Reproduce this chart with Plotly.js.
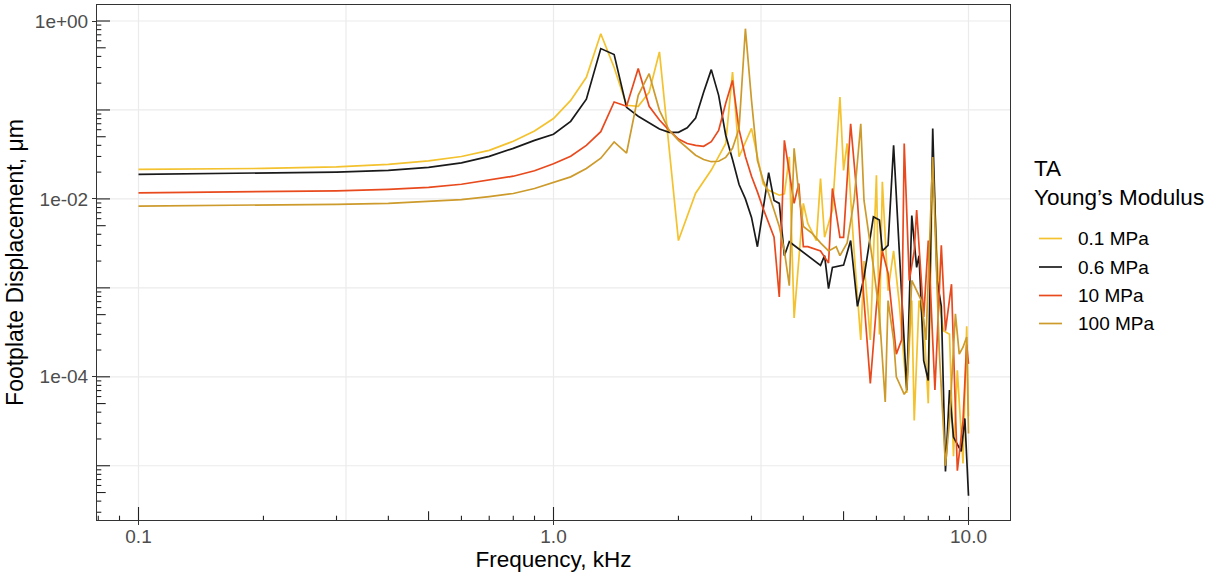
<!DOCTYPE html>
<html>
<head>
<meta charset="utf-8">
<script src="https://cdn.plot.ly/plotly-3.0.1.min.js"></script>
<style>
  html, body { margin: 0; padding: 0; background: #ffffff; }
  #chart { width: 1215px; height: 579px; }
</style>
</head>
<body>
<div id="chart"></div>
<script>
// Footplate displacement frequency response for four TA Young's modulus values

const seriesNames  = ['0.1 MPa', '0.6 MPa', '10 MPa', '100 MPa'];
const seriesColors = ['#F3C22E', '#1A1A1A', '#E84A1E', '#CD9A2C'];

// 0.1 MPa
const freq_01 = [0.1,0.2,0.3,0.4,0.5,0.6,0.7,0.8,0.9,1.0,1.1,1.2,1.3,1.4,1.5,1.6,1.7,1.8,2.0,2.2,2.4,2.6,2.7,2.8,3.0,3.2,3.3,3.5,3.6,3.7,3.8,4.0,4.1,4.3,4.4,4.5,4.7,4.9,5.0,5.1,5.3,5.5,5.6,5.8,6.0,6.1,6.2,6.4,6.6,6.8,7.1,7.3,7.4,7.6,7.8,8.0,8.2,8.5,8.7,9.0,9.2,9.4,9.7,9.9,10.0];
const disp_01 = [0.0215,0.0220,0.0229,0.0245,0.0268,0.0300,0.0351,0.0445,0.058,0.080,0.128,0.233,0.72,0.30,0.113,0.110,0.158,0.45,0.0034,0.0116,0.0211,0.042,0.267,0.0298,0.062,0.0148,0.0125,0.011,0.0114,0.0297,0.00046,0.0089,0.0053,0.0034,0.0169,0.0037,0.0075,0.14,0.0209,0.042,0.0026,0.00026,0.002,0.00026,0.0184,0.0003,0.0156,0.00093,0.0026,0.00072,0.0000658,0.00072,0.0000322,0.00072,0.00043,0.0000503,0.0271,0.00072,0.00033,0.0003,0.0000128,0.000118,0.0000106,0.00037,0.000036];

// 0.6 MPa
const freq_06 = [0.1,0.2,0.3,0.4,0.5,0.6,0.7,0.8,0.9,1.0,1.1,1.2,1.3,1.4,1.5,1.6,1.7,1.8,1.9,2.0,2.1,2.2,2.3,2.4,2.5,2.6,2.7,2.8,2.9,3.0,3.1,3.3,3.4,3.5,3.6,3.7,4.4,4.5,4.6,4.7,5.0,5.2,5.4,5.6,5.9,6.1,6.2,6.4,6.6,6.8,6.9,7.1,7.3,7.5,7.6,7.8,8.0,8.2,8.4,8.6,8.8,9.0,9.2,9.6,9.8,10.0];
const disp_06 = [0.0189,0.0195,0.0200,0.0209,0.0226,0.0254,0.0301,0.0370,0.0455,0.0534,0.0745,0.132,0.49,0.42,0.107,0.085,0.071,0.061,0.056,0.056,0.063,0.081,0.158,0.284,0.146,0.052,0.0277,0.0145,0.0100,0.0062,0.0029,0.0197,0.0096,0.0089,0.0023,0.0033,0.00179,0.0023,0.00098,0.0017,0.0018,0.0034,0.00062,0.00131,0.0063,0.0058,0.0026,0.0030,0.040,0.0026,0.00072,0.000071,0.0065,0.0017,0.0023,0.000152,0.000091,0.062,0.00121,0.00062,0.0000086,0.000071,0.000021,0.0000145,0.000034,0.0000046];

// 10 MPa
const freq_10 = [0.1,0.2,0.3,0.4,0.5,0.6,0.7,0.8,0.9,1.0,1.1,1.2,1.3,1.4,1.5,1.6,1.7,1.8,1.9,2.0,2.1,2.2,2.3,2.4,2.5,2.6,2.7,2.8,2.9,3.0,3.1,3.2,3.4,3.5,3.6,3.8,3.9,4.0,4.1,4.4,4.6,4.7,4.9,5.0,5.2,5.4,5.6,5.8,6.0,6.2,6.4,6.7,6.9,7.0,7.2,7.4,7.5,7.8,8.0,8.3,8.6,8.8,9.1,9.4,9.7,9.9,10.0];
const disp_10 = [0.0117,0.0120,0.0123,0.0128,0.0135,0.0146,0.0162,0.0180,0.0207,0.0248,0.0302,0.040,0.057,0.123,0.110,0.292,0.11,0.077,0.059,0.047,0.042,0.040,0.039,0.044,0.059,0.119,0.215,0.06,0.03,0.018,0.012,0.0078,0.0037,0.00079,0.0456,0.0089,0.0149,0.0029,0.0029,0.0026,0.0019,0.0131,0.0037,0.0037,0.070,0.0096,0.00072,0.000084,0.00062,0.0026,0.00146,0.00018,0.00026,0.042,0.00121,0.0026,0.0075,0.00047,0.0034,0.000071,0.0030,0.00033,0.0011,0.0000088,0.000032,0.00023,0.00014];

// 100 MPa
const freq_100 = [0.1,0.2,0.3,0.4,0.5,0.6,0.7,0.8,0.9,1.0,1.1,1.2,1.3,1.4,1.5,1.6,1.7,1.8,1.9,2.0,2.1,2.2,2.3,2.4,2.5,2.6,2.7,2.8,2.9,3.0,3.1,3.2,3.3,3.5,3.6,3.7,3.8,3.9,4.0,4.2,4.4,4.6,4.8,4.9,5.1,5.3,5.5,5.6,5.9,6.1,6.3,6.4,6.6,6.7,7.0,7.1,7.3,7.7,7.9,8.2,8.5,8.8,9.0,9.3,9.5,9.7,9.9,10.0];
const disp_100 = [0.0083,0.0085,0.0087,0.0089,0.0093,0.0098,0.0106,0.0115,0.0131,0.0154,0.0177,0.0220,0.0287,0.0437,0.0328,0.146,0.256,0.099,0.059,0.0455,0.037,0.031,0.0277,0.0262,0.0265,0.0293,0.037,0.062,0.82,0.128,0.0271,0.0162,0.0115,0.0049,0.0026,0.00106,0.037,0.0115,0.0049,0.0041,0.0032,0.0026,0.0029,0.0023,0.0032,0.0096,0.07,0.0096,0.00173,0.00051,0.0000522,0.00072,0.00026,0.0001,0.0000636,0.0000701,0.00121,0.00072,0.00026,0.0296,0.0002,0.00001,0.000032,0.00051,0.00018,0.000215,0.00028,0.000023];

// Axis tick labels
const xTickVals = [0.1, 1, 10];
const xTickText = ['0.1', '1.0', '10.0'];
const yTickVals = [1, 0.01, 0.0001];
const yTickText = ['1e+00', '1e-02', '1e-04'];

const legendTitle = ['TA', 'Young\u2019s Modulus'];

const freqs = [freq_01, freq_06, freq_10, freq_100];
const disps = [disp_01, disp_06, disp_10, disp_100];

const traces = seriesNames.map((name, i) => ({
  type: 'scatter',
  mode: 'lines',
  name: name,
  x: freqs[i],
  y: disps[i],
  line: { color: seriesColors[i], width: 1.7 },
  showlegend: false,
  hoverinfo: 'skip'
}));

// Plot geometry (pixels)
const W = 1215, H = 579;
const M = { l: 97, r: 205, t: 5, b: 59 };
const PW = W - M.l - M.r;   // 913
const PH = H - M.t - M.b;   // 515
const X_RANGE = [-1.1, 1.1];
const Y_RANGE = [-5.61, 0.18];

const shapes = [];

// Grid: x at 10^(k/2), y at every decade
const gridColor = '#EBEBEB';
for (let h = -2; h <= 2; h++) {
  const v = Math.pow(10, h / 2);
  shapes.push({ type: 'line', layer: 'below', xref: 'x', yref: 'paper',
    x0: v, x1: v, y0: 0, y1: 1, line: { color: gridColor, width: 1.2 } });
}
for (let k = -5; k <= 0; k++) {
  const v = Math.pow(10, k);
  shapes.push({ type: 'line', layer: 'below', xref: 'paper', yref: 'y',
    x0: 0, x1: 1, y0: v, y1: v, line: { color: gridColor, width: 1.2 } });
}

// Log tick marks drawn inside the panel (long at 10^k, mid at 5x10^k, short otherwise)
const LONG = 13, MID = 8.7, SHORT = 4.3;
const tickColor = '#222222';
function tickLen(m) { return m === 1 ? LONG : (m === 5 ? MID : SHORT); }
for (let k = -7; k <= 1; k++) {
  for (let m = 1; m <= 9; m++) {
    const v = m * Math.pow(10, k);
    const lv = Math.log10(v);
    if (lv >= Y_RANGE[0] && lv <= Y_RANGE[1]) {
      shapes.push({ type: 'line', xref: 'paper', yref: 'y',
        x0: 0, x1: tickLen(m) / PW, y0: v, y1: v,
        line: { color: tickColor, width: 1.1 } });
    }
    if (lv >= X_RANGE[0] && lv <= X_RANGE[1]) {
      shapes.push({ type: 'line', xref: 'x', yref: 'paper',
        x0: v, x1: v, y0: 0, y1: tickLen(m) / PH,
        line: { color: tickColor, width: 1.1 } });
    }
  }
}

// Legend keys and labels
const annotations = [];
const px2x = px => (px - M.l) / PW;
const py2y = py => (H - M.b - py) / PH;
annotations.push({ xref: 'paper', yref: 'paper', x: px2x(1032), y: py2y(168),
  xanchor: 'left', yanchor: 'middle', text: legendTitle[0], showarrow: false,
  font: { size: 22.5, color: '#000000' } });
annotations.push({ xref: 'paper', yref: 'paper', x: px2x(1032), y: py2y(197),
  xanchor: 'left', yanchor: 'middle', text: legendTitle[1], showarrow: false,
  font: { size: 22.5, color: '#000000' } });
const keyRows = [238.5, 267, 295.5, 323.5];
seriesNames.forEach((name, i) => {
  shapes.push({ type: 'line', xref: 'paper', yref: 'paper',
    x0: px2x(1039), x1: px2x(1062), y0: py2y(keyRows[i]), y1: py2y(keyRows[i]),
    line: { color: seriesColors[i], width: 1.7 } });
  annotations.push({ xref: 'paper', yref: 'paper', x: px2x(1076), y: py2y(keyRows[i]),
    xanchor: 'left', yanchor: 'middle', text: name, showarrow: false,
    font: { size: 19, color: '#000000' } });
});

const layout = {
  width: W, height: H,
  margin: M,
  paper_bgcolor: '#ffffff',
  plot_bgcolor: '#ffffff',
  font: { family: 'Liberation Sans, Arial, sans-serif', color: '#000000' },
  showlegend: false,
  xaxis: {
    type: 'log', range: X_RANGE, autorange: false,
    tickmode: 'array', tickvals: xTickVals, ticktext: xTickText,
    ticks: 'outside', ticklen: 4, tickwidth: 1, tickcolor: '#333333',
    ticklabelstandoff: -5,
    tickfont: { size: 19, color: '#4D4D4D' },
    showgrid: false,
    showline: true, mirror: true, linecolor: '#333333', linewidth: 1,
    zeroline: false,
    title: { text: 'Frequency, kHz', font: { size: 22.5, color: '#000000' }, standoff: 5 }
  },
  yaxis: {
    type: 'log', range: Y_RANGE, autorange: false,
    tickmode: 'array', tickvals: yTickVals, ticktext: yTickText,
    ticks: 'outside', ticklen: 4, tickwidth: 1, tickcolor: '#333333',
    tickfont: { size: 19, color: '#4D4D4D' },
    showgrid: false,
    showline: true, mirror: true, linecolor: '#333333', linewidth: 1,
    zeroline: false,
    title: { text: 'Footplate Displacement, \u03bcm', font: { size: 23, color: '#000000' }, standoff: 4 }
  },
  shapes: shapes,
  annotations: annotations
};

Plotly.newPlot('chart', traces, layout, { displayModeBar: false, staticPlot: true });
</script>
</body>
</html>
